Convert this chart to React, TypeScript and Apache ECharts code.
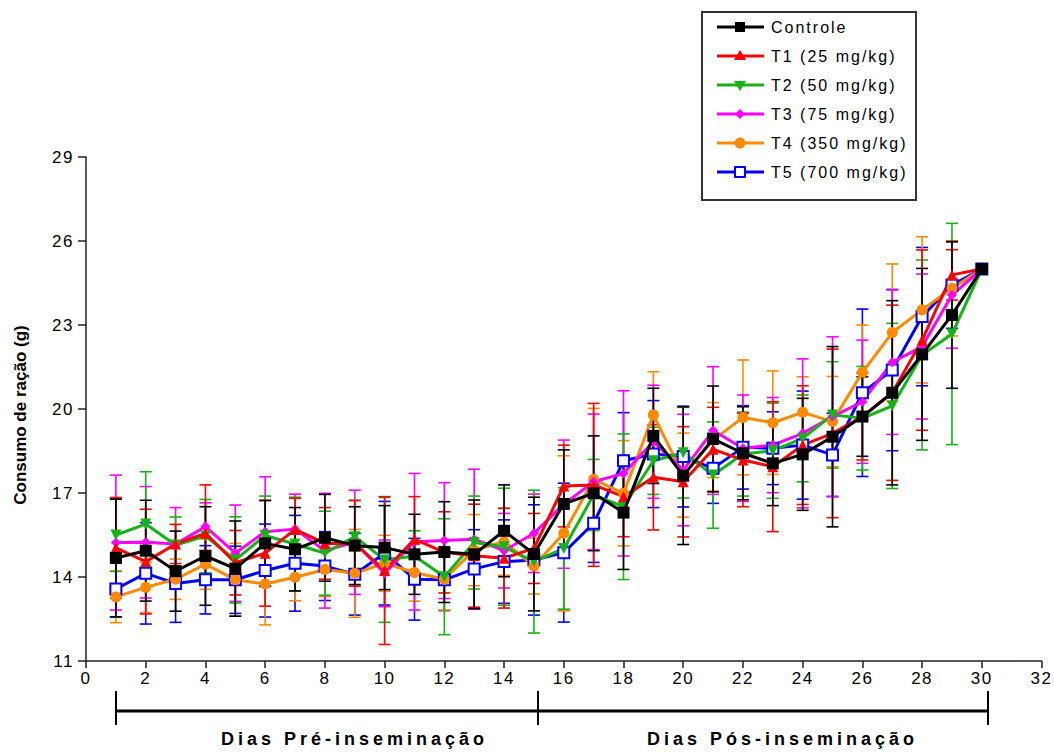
import React, { useEffect, useRef } from "react";
import * as echarts from "echarts";

const days = [1,2,3,4,5,6,7,8,9,10,11,12,13,14,15,16,17,18,19,20,21,22,23,24,25,26,27,28,29,30];

const controle = [14.68,14.94,14.21,14.75,14.30,15.20,14.99,15.40,15.12,15.05,14.81,14.89,14.81,15.65,14.82,16.61,16.99,16.30,19.04,17.62,18.93,18.42,18.06,18.38,19.01,19.73,20.58,21.95,23.36,25.00];
const controleErr = [2.1,1.8,1.43,1.76,1.7,1.53,1.49,1.55,1.39,1.5,1.43,1.8,1.94,1.64,2.03,1.93,2.05,2.03,1.7,2.46,1.89,1.66,1.51,2.0,3.22,1.42,3.29,3.07,2.62,0];

const t1 = [15.04,14.55,15.18,15.56,14.51,14.85,15.70,15.20,15.20,14.23,15.35,14.88,14.76,14.67,15.02,17.25,17.29,16.87,17.56,17.40,18.56,18.18,17.94,18.71,19.13,19.73,20.58,22.46,24.79,25.00];
const t1Err = [1.8,1.87,0.7,1.73,1.15,1.89,1.11,1.28,1.53,2.64,1.52,1.45,1.84,1.78,1.25,1.46,2.91,1.43,1.88,1.97,1.5,1.67,2.32,2.12,3.01,1.55,3.13,3.22,0.9,0];

const t2 = [15.50,15.89,15.14,15.46,14.61,15.48,15.18,14.85,15.44,14.61,14.75,14.01,15.23,15.08,14.55,15.02,16.93,16.51,18.15,18.44,17.64,18.39,18.51,18.95,19.79,19.67,20.11,21.93,22.68,25.00];
const t2Err = [1.3,1.87,1.0,1.31,1.54,1.41,1.67,1.5,1.3,2.23,0.9,2.07,1.66,2.09,2.55,2.17,1.27,2.6,1.2,1.62,1.9,1.5,1.7,1.55,1.9,1.85,2.95,3.39,3.95,0];

const t3 = [15.23,15.24,15.18,15.80,14.85,15.62,15.71,14.94,15.24,14.13,15.26,15.30,15.35,14.94,15.56,16.60,17.40,17.70,18.83,17.82,19.23,18.60,18.71,19.13,19.73,20.26,21.67,22.23,24.07,25.00];
const t3Err = [2.41,1.99,1.3,0.85,1.72,1.96,1.25,2.05,1.86,1.19,2.44,2.07,2.5,1.33,1.4,2.29,2.42,2.95,2.02,1.99,2.28,1.9,1.7,2.66,2.85,2.2,2.58,2.59,1.9,0];

const t4 = [13.29,13.63,13.92,14.46,13.90,13.75,13.99,14.27,14.13,14.49,14.16,13.92,14.96,15.26,14.39,15.56,17.49,16.99,19.79,17.64,18.89,19.70,19.51,19.88,19.55,21.31,22.73,23.54,24.31,25.00];
const t4Err = [0.92,0.9,0.72,0.9,1.3,1.46,0.84,0.97,1.57,1.0,1.02,1.1,1.27,1.2,1.0,2.77,2.53,1.88,1.54,1.5,1.34,2.05,1.85,1.27,1.61,1.69,2.45,2.61,1.7,0];

const t5 = [13.57,14.13,13.77,13.90,13.90,14.23,14.49,14.39,14.10,14.85,13.92,13.90,14.29,14.55,14.61,14.87,15.92,18.15,18.39,18.30,17.88,18.63,18.60,18.71,18.36,20.58,21.39,23.30,24.43,25.00];
const t5Err = [1.0,1.81,1.39,1.22,1.2,1.66,1.71,1.23,1.46,1.85,1.46,1.1,1.4,1.49,1.97,2.48,1.4,1.72,1.91,1.8,1.25,1.49,1.3,1.93,1.49,2.99,2.88,2.47,1.55,0];

const seriesNames = ["Controle", "T1 (25 mg/kg)", "T2 (50 mg/kg)", "T3 (75 mg/kg)", "T4 (350 mg/kg)", "T5 (700 mg/kg)"];
const periodLabels = ["Dias Pré-inseminação", "Dias Pós-inseminação"];
const yTitle = "Consumo de ração (g)";

const C_BLACK = "#000000";
const C_RED = "#ff0000";
const C_GREEN = "#16b316";
const C_MAGENTA = "#ff00ff";
const C_ORANGE = "#ff8a00";
const C_BLUE = "#0000ff";
const FONT = "Liberation Sans, Arial, sans-serif";

function errorSeries(name: string, color: string, vals: number[], errs: number[], z: number) {
  return {
    type: "custom",
    name: name + " err",
    silent: true,
    z,
    data: days.map((d, i) => [d, vals[i] - errs[i], vals[i] + errs[i]]),
    encode: { x: 0, y: [1, 2] },
    renderItem: (params: any, api: any) => {
      const x = api.value(0);
      const lo = api.coord([x, api.value(1)]);
      const hi = api.coord([x, api.value(2)]);
      const w = 6;
      const st = { stroke: color, lineWidth: 1.6 };
      return {
        type: "group",
        children: [
          { type: "line", shape: { x1: lo[0], y1: lo[1], x2: hi[0], y2: hi[1] }, style: st },
          { type: "line", shape: { x1: lo[0] - w, y1: lo[1], x2: lo[0] + w, y2: lo[1] }, style: st },
          { type: "line", shape: { x1: hi[0] - w, y1: hi[1], x2: hi[0] + w, y2: hi[1] }, style: st },
        ],
      };
    },
  };
}

function lineSeries(name: string, color: string, vals: number[], symbol: string, size: number, z: number, extra: any = {}) {
  return {
    type: "line",
    name,
    z,
    silent: true,
    data: days.map((d, i) => [d, vals[i]]),
    symbol,
    symbolSize: size,
    showAllSymbol: true,
    lineStyle: { color, width: 3 },
    itemStyle: { color, ...(extra.itemStyle || {}) },
    symbolRotate: extra.symbolRotate || 0,
    emphasis: { disabled: true },
  };
}

export default function App() {
  const ref = useRef<HTMLDivElement>(null);
  useEffect(() => {
    document.body.style.margin = "0";
    const el = ref.current!;
    const chart = echarts.init(el, null, { renderer: "svg" });

    const lx1 = 717, lx2 = 764, lmx = 740, ltx = 771;
    const rows = [27, 56, 85, 114, 143, 172];
    const legendColors = [C_BLACK, C_RED, C_GREEN, C_MAGENTA, C_ORANGE, C_BLUE];
    const legendGraphics: any[] = [
      { type: "rect", shape: { x: 702, y: 12, width: 214, height: 188 }, style: { fill: "#fff", stroke: "#333", lineWidth: 2 }, silent: true, z: 100 },
    ];
    rows.forEach((y, i) => {
      legendGraphics.push({ type: "line", shape: { x1: lx1, y1: y, x2: lx2, y2: y }, style: { stroke: legendColors[i], lineWidth: 3 }, silent: true, z: 101 });
      legendGraphics.push({
        type: "text", x: ltx, y, silent: true, z: 102,
        style: { text: seriesNames[i], fontFamily: FONT, fontSize: 16, fill: "#000", align: "left", verticalAlign: "middle" },
      });
    });
    legendGraphics.push({ type: "rect", shape: { x: lmx - 5, y: rows[0] - 5, width: 10, height: 10 }, style: { fill: C_BLACK }, silent: true, z: 103 });
    legendGraphics.push({ type: "polygon", shape: { points: [[lmx, rows[1] - 6], [lmx - 6, rows[1] + 4], [lmx + 6, rows[1] + 4]] }, style: { fill: C_RED }, silent: true, z: 103 });
    legendGraphics.push({ type: "polygon", shape: { points: [[lmx, rows[2] + 6], [lmx - 6, rows[2] - 4], [lmx + 6, rows[2] - 4]] }, style: { fill: C_GREEN }, silent: true, z: 103 });
    legendGraphics.push({ type: "polygon", shape: { points: [[lmx, rows[3] - 5], [lmx - 5, rows[3]], [lmx, rows[3] + 5], [lmx + 5, rows[3]]] }, style: { fill: C_MAGENTA }, silent: true, z: 103 });
    legendGraphics.push({ type: "circle", shape: { cx: lmx, cy: rows[4], r: 5.5 }, style: { fill: C_ORANGE }, silent: true, z: 103 });
    legendGraphics.push({ type: "rect", shape: { x: lmx - 5, y: rows[5] - 5, width: 10, height: 10 }, style: { fill: "#fff", stroke: C_BLUE, lineWidth: 2 }, silent: true, z: 103 });

    const bracketY = 711;
    const bx = [116, 538, 988];
    const bracket: any[] = [
      { type: "line", shape: { x1: bx[0], y1: bracketY, x2: bx[2], y2: bracketY }, style: { stroke: "#000", lineWidth: 3 }, silent: true },
      ...bx.map((x) => ({ type: "line", shape: { x1: x, y1: 691, x2: x, y2: 725 }, style: { stroke: "#000", lineWidth: 2 }, silent: true })),
      {
        type: "text", x: 221, y: 739, silent: true,
        style: { text: periodLabels[0], fontFamily: FONT, fontWeight: "bold", fontSize: 18, fill: "#000", align: "left", verticalAlign: "middle" },
      },
      {
        type: "text", x: 647, y: 739, silent: true,
        style: { text: periodLabels[1], fontFamily: FONT, fontWeight: "bold", fontSize: 18, fill: "#000", align: "left", verticalAlign: "middle" },
      },
      {
        type: "text", x: 20, y: 415, rotation: Math.PI / 2, silent: true,
        style: { text: yTitle, fontFamily: FONT, fontWeight: "bold", fontSize: 17, fill: "#000", align: "center", verticalAlign: "middle" },
      },
    ];

    chart.setOption({
      animation: false,
      backgroundColor: "#fff",
      grid: { left: 86, right: 11, top: 157, bottom: 91, containLabel: false },
      xAxis: {
        type: "value", min: 0, max: 32, interval: 2,
        axisLine: { show: true, lineStyle: { color: "#222", width: 1.5 } },
        axisTick: { show: true, length: 7, lineStyle: { color: "#222", width: 1.5 } },
        axisLabel: { color: "#000", fontSize: 17, fontFamily: FONT, margin: 9 },
        splitLine: { show: false },
      },
      yAxis: {
        type: "value", min: 11, max: 29, interval: 3,
        axisLine: { show: true, lineStyle: { color: "#222", width: 1.5 } },
        axisTick: { show: true, length: 8, lineStyle: { color: "#222", width: 1.5 } },
        axisLabel: { color: "#000", fontSize: 17, fontFamily: FONT, margin: 12 },
        splitLine: { show: false },
      },
      graphic: [...legendGraphics, ...bracket],
      series: [
        errorSeries(seriesNames[5], C_BLUE, t5, t5Err, 1),
        errorSeries(seriesNames[4], C_ORANGE, t4, t4Err, 1),
        errorSeries(seriesNames[3], C_MAGENTA, t3, t3Err, 1),
        errorSeries(seriesNames[2], C_GREEN, t2, t2Err, 1),
        errorSeries(seriesNames[1], C_RED, t1, t1Err, 1),
        errorSeries(seriesNames[0], C_BLACK, controle, controleErr, 1),
        lineSeries(seriesNames[5], C_BLUE, t5, "rect", 11, 3, { itemStyle: { color: "#fff", borderColor: C_BLUE, borderWidth: 2 } }),
        lineSeries(seriesNames[4], C_ORANGE, t4, "circle", 11, 3),
        lineSeries(seriesNames[3], C_MAGENTA, t3, "diamond", 10, 3),
        lineSeries(seriesNames[2], C_GREEN, t2, "triangle", 11, 3, { symbolRotate: 180 }),
        lineSeries(seriesNames[1], C_RED, t1, "triangle", 11, 3),
        lineSeries(seriesNames[0], C_BLACK, controle, "rect", 12, 4),
      ],
    });

    const spacing: Record<string, string> = {};
    seriesNames.forEach((n) => (spacing[n] = "2"));
    periodLabels.forEach((n) => (spacing[n] = "4"));
    el.querySelectorAll("text").forEach((t) => {
      const txt = t.textContent || "";
      let s = spacing[txt];
      if (!s && /^\d+$/.test(txt)) s = "1.5";
      if (s) t.setAttribute("letter-spacing", s);
    });

    return () => chart.dispose();
  }, []);
  return <div ref={ref} style={{ width: 1054, height: 752 }} />;
}
